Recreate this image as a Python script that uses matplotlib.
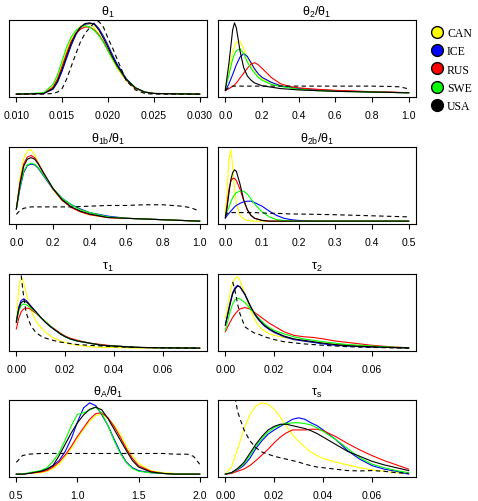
import numpy as np
import matplotlib
matplotlib.use("Agg")
import matplotlib.pyplot as plt
from matplotlib.lines import Line2D

plt.rcParams["font.family"] = ["Liberation Sans", "DejaVu Sans"]
plt.rcParams["mathtext.fontset"] = "custom"
plt.rcParams["mathtext.rm"] = "Liberation Sans"
plt.rcParams["mathtext.it"] = "Liberation Sans"

countries = ["CAN", "ICE", "RUS", "SWE", "USA"]
colours = ["#FFFF00", "#0000FF", "#FF0000", "#00FF00", "#000000"]
nan = np.nan

# theta_1
theta1_x = [0.010, 0.013, 0.014, 0.0145, 0.015, 0.0155, 0.016, 0.0165, 0.017, 0.0175, 0.018,
            0.0185, 0.019, 0.0195, 0.020, 0.0205, 0.021, 0.022, 0.023, 0.024, 0.025, 0.030]
theta1 = {
    "CAN": [0, 0.01, 0.11, 0.24, 0.43, 0.63, 0.80, 0.91, 0.97, 1.0, 1.0, 0.95, 0.86, 0.75, 0.62, 0.49, 0.37, 0.19, 0.08, 0.03, 0.01, 0],
    "ICE": [0, 0.01, 0.07, 0.17, 0.33, 0.52, 0.70, 0.85, 0.95, 1.0, 1.01, 1.01, 0.94, 0.83, 0.70, 0.56, 0.43, 0.22, 0.09, 0.03, 0.01, 0],
    "RUS": [0, 0.01, 0.10, 0.22, 0.40, 0.59, 0.76, 0.87, 0.93, 0.96, 0.96, 0.92, 0.85, 0.75, 0.63, 0.51, 0.39, 0.20, 0.08, 0.03, 0.01, 0],
    "SWE": [0, 0.02, 0.14, 0.28, 0.48, 0.68, 0.82, 0.91, 0.96, 0.98, 0.96, 0.91, 0.84, 0.74, 0.62, 0.50, 0.39, 0.21, 0.09, 0.03, 0.01, 0],
    "USA": [0, 0.01, 0.08, 0.19, 0.36, 0.55, 0.73, 0.87, 0.96, 1.01, 1.02, 1.0, 0.92, 0.80, 0.67, 0.53, 0.41, 0.21, 0.09, 0.03, 0.01, 0],
    "prior": [0, 0, 0.01, 0.03, 0.08, 0.22, 0.40, 0.58, 0.75, 0.87, 0.95, 1.02, 1.04, 0.96, 0.80, 0.66, 0.50, 0.19, 0.06, 0.01, 0, 0],
}

# theta_2 / theta_1
theta2_x = [0, 0.02, 0.04, 0.05, 0.06, 0.08, 0.10, 0.12, 0.14, 0.16, 0.18, 0.20,
            0.25, 0.30, 0.35, 0.40, 0.50, 0.60, 0.70, 0.80, 0.90, 0.95, 1.0]
theta2 = {
    "CAN": [0.09, 0.35, 0.60, 0.68, 0.74, 0.76, 0.65, 0.52, 0.42, 0.34, 0.27, 0.22, 0.16, 0.13, 0.10, 0.08, 0.06, 0.05, 0.04, 0.03, 0.025, 0.022, 0.02],
    "ICE": [0.05, 0.15, 0.28, 0.35, 0.42, 0.53, 0.58, 0.54, 0.45, 0.36, 0.29, 0.24, 0.17, 0.12, 0.10, 0.08, 0.06, 0.05, 0.04, 0.03, 0.025, 0.022, 0.02],
    "RUS": [0.05, 0.08, 0.11, 0.13, 0.16, 0.23, 0.30, 0.37, 0.43, 0.45, 0.42, 0.37, 0.24, 0.15, 0.11, 0.09, 0.07, 0.055, 0.045, 0.035, 0.03, 0.025, 0.02],
    "SWE": [0.07, 0.28, 0.50, 0.57, 0.62, 0.65, 0.58, 0.46, 0.37, 0.30, 0.24, 0.20, 0.14, 0.11, 0.09, 0.07, 0.05, 0.04, 0.035, 0.03, 0.025, 0.022, 0.02],
    "USA": [0.06, 0.45, 0.92, 1.02, 0.95, 0.62, 0.38, 0.26, 0.20, 0.16, 0.14, 0.12, 0.10, 0.08, 0.07, 0.06, 0.05, 0.04, 0.035, 0.03, 0.025, 0.022, 0.02],
    "prior": [0.05, 0.10, 0.115, 0.115, 0.115, 0.115, 0.115, 0.115, 0.115, 0.115, 0.115, 0.115, 0.115, 0.115, 0.115, 0.115, 0.115, 0.115, 0.115, 0.115, 0.11, 0.105, 0.075],
}

# theta_1b / theta_1
theta1b_x = [0, 0.02, 0.04, 0.06, 0.08, 0.10, 0.12, 0.15, 0.20, 0.25, 0.30, 0.35,
             0.40, 0.50, 0.60, 0.70, 0.80, 0.90, 0.95, 1.0]
theta1b = {
    "CAN": [0.17, 0.60, 0.88, 0.99, 1.0, 0.93, 0.82, 0.66, 0.44, 0.29, 0.19, 0.13, 0.09, 0.05, 0.04, 0.03, 0.02, 0.01, 0.005, 0],
    "ICE": [0.17, 0.46, 0.68, 0.78, 0.80, 0.79, 0.74, 0.63, 0.45, 0.32, 0.23, 0.17, 0.12, 0.07, 0.04, 0.03, 0.02, 0.01, 0.005, 0],
    "RUS": [0.17, 0.55, 0.80, 0.90, 0.92, 0.89, 0.81, 0.67, 0.45, 0.29, 0.19, 0.13, 0.09, 0.05, 0.04, 0.03, 0.02, 0.01, 0.005, 0],
    "SWE": [0.17, 0.48, 0.70, 0.79, 0.81, 0.80, 0.75, 0.64, 0.46, 0.32, 0.23, 0.16, 0.12, 0.06, 0.04, 0.03, 0.02, 0.01, 0.005, 0],
    "USA": [0.17, 0.52, 0.77, 0.87, 0.89, 0.87, 0.80, 0.67, 0.46, 0.30, 0.20, 0.14, 0.10, 0.05, 0.04, 0.03, 0.02, 0.01, 0.005, 0],
    "prior": [0.095, 0.15, 0.18, 0.19, 0.20, 0.20, 0.20, 0.20, 0.20, 0.20, 0.20, 0.205, 0.21, 0.22, 0.22, 0.23, 0.23, 0.21, 0.19, 0.14],
}

# theta_2b / theta_1
theta2b_x = [0, 0.005, 0.01, 0.015, 0.02, 0.025, 0.03, 0.04, 0.05, 0.06, 0.07, 0.08,
             0.10, 0.12, 0.14, 0.16, 0.18, 0.20, 0.25, 0.30, 0.40, 0.50]
theta2b = {
    "CAN": [0.08, 0.45, 0.88, 1.0, 0.78, 0.45, 0.25, 0.08, 0.03, 0.01, 0.005, 0, 0, 0, 0, 0, 0, 0, 0, 0, 0, 0],
    "ICE": [0.04, 0.08, 0.11, 0.14, 0.17, 0.20, 0.22, 0.25, 0.27, 0.28, 0.28, 0.26, 0.21, 0.14, 0.08, 0.04, 0.02, 0.01, 0, 0, 0, 0],
    "RUS": [0.05, 0.25, 0.45, 0.56, 0.60, 0.60, 0.57, 0.45, 0.29, 0.16, 0.08, 0.04, 0.01, 0, 0, 0, 0, 0, 0, 0, 0, 0],
    "SWE": [0.08, 0.14, 0.20, 0.27, 0.33, 0.37, 0.40, 0.42, 0.42, 0.38, 0.31, 0.24, 0.13, 0.06, 0.02, 0.01, 0, 0, 0, 0, 0, 0],
    "USA": [0.05, 0.20, 0.40, 0.58, 0.68, 0.72, 0.70, 0.52, 0.30, 0.16, 0.08, 0.04, 0.01, 0, 0, 0, 0, 0, 0, 0, 0, 0],
    "prior": [0.07, 0.11, 0.12, 0.12, 0.12, 0.12, 0.12, 0.12, 0.12, 0.12, 0.12, 0.12, 0.115, 0.11, 0.11, 0.105, 0.10, 0.10, 0.095, 0.09, 0.075, 0.06],
}

# tau_1
tau1_x = [0, 0.001, 0.002, 0.003, 0.004, 0.005, 0.006, 0.008, 0.010, 0.012, 0.014, 0.016,
          0.018, 0.020, 0.022, 0.025, 0.030, 0.035, 0.040, 0.050, 0.060, 0.075]
tau1 = {
    "CAN": [0.38, 0.85, 1.0, 0.92, 0.78, 0.64, 0.53, 0.38, 0.29, 0.22, 0.17, 0.13, 0.10, 0.08, 0.06, 0.04, 0.02, 0.01, 0.01, 0, 0, 0],
    "ICE": [0.38, 0.58, 0.67, 0.69, 0.67, 0.63, 0.59, 0.51, 0.43, 0.36, 0.30, 0.25, 0.20, 0.16, 0.13, 0.10, 0.07, 0.04, 0.03, 0.01, 0.005, 0],
    "RUS": [0.27, 0.42, 0.51, 0.55, 0.56, 0.56, 0.54, 0.49, 0.43, 0.37, 0.31, 0.26, 0.21, 0.17, 0.14, 0.11, 0.07, 0.05, 0.03, 0.01, 0.005, 0],
    "SWE": [0.36, 0.52, 0.60, 0.62, 0.61, 0.59, 0.56, 0.50, 0.43, 0.37, 0.31, 0.25, 0.20, 0.16, 0.13, 0.10, 0.07, 0.04, 0.03, 0.01, 0.005, 0],
    "USA": [0.36, 0.55, 0.64, 0.66, 0.65, 0.62, 0.58, 0.51, 0.43, 0.36, 0.30, 0.25, 0.20, 0.16, 0.13, 0.10, 0.07, 0.04, 0.03, 0.01, 0.005, 0],
    "prior": [nan, nan, 1.02, 0.72, 0.50, 0.40, 0.31, 0.22, 0.17, 0.14, 0.12, 0.10, 0.085, 0.075, 0.065, 0.05, 0.04, 0.03, 0.02, 0.01, 0.005, 0],
}

# tau_2
tau2_x = [0, 0.002, 0.003, 0.004, 0.005, 0.006, 0.008, 0.010, 0.012, 0.014, 0.016, 0.018,
          0.020, 0.024, 0.028, 0.032, 0.036, 0.040, 0.045, 0.050, 0.055, 0.060, 0.067, 0.075]
tau2 = {
    "CAN": [0.42, 0.78, 0.92, 0.98, 1.0, 0.95, 0.76, 0.55, 0.40, 0.30, 0.24, 0.20, 0.18, 0.15, 0.12, 0.10, 0.08, 0.07, 0.05, 0.04, 0.03, 0.02, 0.01, 0],
    "ICE": [0.33, 0.65, 0.78, 0.85, 0.88, 0.86, 0.75, 0.60, 0.47, 0.38, 0.31, 0.26, 0.22, 0.16, 0.12, 0.10, 0.08, 0.06, 0.04, 0.03, 0.02, 0.015, 0.01, 0],
    "RUS": [0.23, 0.37, 0.43, 0.48, 0.52, 0.55, 0.57, 0.55, 0.50, 0.45, 0.40, 0.35, 0.31, 0.23, 0.18, 0.16, 0.15, 0.13, 0.10, 0.08, 0.06, 0.04, 0.02, 0.005],
    "SWE": [0.25, 0.52, 0.62, 0.68, 0.70, 0.69, 0.64, 0.56, 0.48, 0.41, 0.34, 0.29, 0.25, 0.20, 0.16, 0.13, 0.11, 0.09, 0.07, 0.05, 0.04, 0.03, 0.015, 0.005],
    "USA": [0.32, 0.62, 0.76, 0.83, 0.87, 0.86, 0.76, 0.61, 0.48, 0.39, 0.32, 0.27, 0.23, 0.17, 0.13, 0.11, 0.09, 0.07, 0.05, 0.035, 0.025, 0.02, 0.01, 0.005],
    "prior": [nan, nan, 0.93, 0.80, 0.62, 0.48, 0.30, 0.25, 0.21, 0.19, 0.16, 0.14, 0.12, 0.09, 0.075, 0.06, 0.05, 0.04, 0.03, 0.02, 0.015, 0.01, 0.005, 0],
}

# theta_A / theta_1
thetaA_x = [0.5, 0.55, 0.6, 0.7, 0.75, 0.8, 0.85, 0.9, 0.95, 1.0, 1.05, 1.1, 1.15,
            1.2, 1.25, 1.3, 1.35, 1.4, 1.45, 1.5, 1.6, 1.7, 1.8, 1.9, 1.95, 2.0]
thetaA = {
    "CAN": [0, 0, 0.01, 0.02, 0.04, 0.08, 0.14, 0.24, 0.36, 0.50, 0.63, 0.74, 0.82, 0.84, 0.78, 0.69, 0.56, 0.40, 0.26, 0.15, 0.05, 0.02, 0.01, 0, 0, 0],
    "ICE": [0, 0, 0.01, 0.04, 0.07, 0.12, 0.19, 0.32, 0.50, 0.73, 0.93, 1.0, 0.96, 0.83, 0.68, 0.49, 0.31, 0.17, 0.09, 0.05, 0.02, 0.01, 0, 0, 0, 0],
    "RUS": [0, 0, 0.01, 0.03, 0.05, 0.10, 0.17, 0.27, 0.39, 0.53, 0.65, 0.77, 0.85, 0.86, 0.79, 0.67, 0.52, 0.36, 0.22, 0.12, 0.04, 0.01, 0, 0, 0, 0],
    "SWE": [0, 0, 0.02, 0.05, 0.09, 0.18, 0.30, 0.48, 0.68, 0.84, 0.86, 0.90, 0.94, 0.85, 0.68, 0.47, 0.29, 0.16, 0.08, 0.04, 0.02, 0.01, 0, 0, 0, 0],
    "USA": [0, 0, 0.01, 0.04, 0.07, 0.12, 0.26, 0.42, 0.58, 0.72, 0.83, 0.91, 0.94, 0.90, 0.78, 0.63, 0.48, 0.33, 0.19, 0.10, 0.03, 0.01, 0, 0, 0, 0],
    "prior": [0.165, 0.26, 0.28, 0.29, 0.29, 0.29, 0.29, 0.29, 0.29, 0.29, 0.29, 0.29, 0.29, 0.29, 0.29, 0.29, 0.29, 0.29, 0.29, 0.29, 0.29, 0.29, 0.28, 0.28, 0.25, 0.14],
}

# tau_s
taus_x = [0, 0.0025, 0.005, 0.0075, 0.010, 0.0125, 0.015, 0.0175, 0.020, 0.0225, 0.025, 0.0275,
          0.030, 0.0325, 0.035, 0.0375, 0.040, 0.045, 0.050, 0.055, 0.060, 0.065, 0.070, 0.075]
taus = {
    "CAN": [0, 0.10, 0.35, 0.62, 0.83, 0.96, 1.0, 0.98, 0.91, 0.80, 0.67, 0.55, 0.46, 0.38, 0.31, 0.26, 0.22, 0.17, 0.13, 0.09, 0.06, 0.04, 0.02, 0.01],
    "ICE": [0, 0.02, 0.06, 0.12, 0.22, 0.36, 0.47, 0.56, 0.62, 0.67, 0.72, 0.77, 0.79, 0.77, 0.72, 0.68, 0.62, 0.49, 0.33, 0.21, 0.12, 0.07, 0.04, 0],
    "RUS": [0, 0.01, 0.04, 0.07, 0.12, 0.19, 0.27, 0.35, 0.44, 0.52, 0.58, 0.62, 0.62, 0.62, 0.63, 0.63, 0.61, 0.53, 0.43, 0.34, 0.26, 0.19, 0.13, 0.07],
    "SWE": [0, 0.02, 0.07, 0.14, 0.26, 0.39, 0.50, 0.59, 0.65, 0.69, 0.71, 0.72, 0.72, 0.71, 0.69, 0.65, 0.60, 0.49, 0.36, 0.23, 0.14, 0.09, 0.05, 0.02],
    "USA": [0, 0.02, 0.08, 0.16, 0.29, 0.42, 0.53, 0.62, 0.67, 0.70, 0.70, 0.68, 0.66, 0.64, 0.61, 0.57, 0.52, 0.42, 0.32, 0.25, 0.18, 0.13, 0.09, 0.05],
    "prior": [nan, 1.4, 0.88, 0.63, 0.47, 0.37, 0.31, 0.28, 0.25, 0.23, 0.21, 0.19, 0.17, 0.14, 0.12, 0.10, 0.09, 0.07, 0.05, 0.045, 0.05, 0.04, 0.02, 0.01],
}

titles = [r"θ$_1$", r"θ$_2$/θ$_1$", r"θ$_{1b}$/θ$_1$", r"θ$_{2b}$/θ$_1$",
          r"τ$_1$", r"τ$_2$", r"θ$_A$/θ$_1$", r"τ$_s$"]
ticks = [[0.010, 0.015, 0.020, 0.025, 0.030], [0, 0.2, 0.4, 0.6, 0.8, 1.0],
         [0, 0.2, 0.4, 0.6, 0.8, 1.0], [0, 0.1, 0.2, 0.3, 0.4, 0.5],
         [0, 0.02, 0.04, 0.06], [0, 0.02, 0.04, 0.06],
         [0.5, 1.0, 1.5, 2.0], [0, 0.02, 0.04, 0.06]]
fmts = ["%.3f", "%.1f", "%.1f", "%.1f", "%.2f", "%.2f", "%.1f", "%.2f"]
panels = [(theta1_x, theta1), (theta2_x, theta2), (theta1b_x, theta1b), (theta2b_x, theta2b),
          (tau1_x, tau1), (tau2_x, tau2), (thetaA_x, thetaA), (taus_x, taus)]

fig = plt.figure(figsize=(4.78, 5.02), dpi=100)
W, H = 478, 502
lefts = [9, 218]
tops = [21, 148, 275, 401]
pw, ph = 198, 77

for i, (x, series) in enumerate(panels):
    r, c = divmod(i, 2)
    ax = fig.add_axes([lefts[c] / W, 1 - (tops[r] + ph) / H, pw / W, ph / H])
    for name, col in zip(countries, colours):
        ax.plot(x, series[name], color=col, lw=0.8)
    ax.plot(x, series["prior"], color="black", lw=0.8, ls=(0, (4, 3)))
    top = max(max(series[n]) for n in countries)
    ax.set_ylim(-0.04 * top, 1.04 * top)
    span = x[-1] - x[0]
    ax.set_xlim(x[0] - 0.04 * span, x[-1] + 0.04 * span)
    ax.set_yticks([])
    ax.set_xticks(ticks[i])
    ax.set_xticklabels([fmts[i] % t for t in ticks[i]])
    ax.tick_params(axis="x", length=3.6, width=0.8, pad=5.6, labelsize=7.6)
    for s in ax.spines.values():
        s.set_linewidth(0.8)
    ax.set_title(titles[i], fontsize=9, pad=4)

handles = [Line2D([], [], ls="none", marker="o", markersize=8.5, markerfacecolor=col,
                  markeredgecolor="black", markeredgewidth=1) for col in colours]
fig.legend(handles, countries, loc="upper left", bbox_to_anchor=(0.902, 0.944),
           frameon=False, borderpad=0, borderaxespad=0, handlelength=1.0,
           handletextpad=0.35, labelspacing=0.53,
           prop={"family": "Liberation Serif", "size": 8.5})

fig.savefig("out.png", dpi=100)
